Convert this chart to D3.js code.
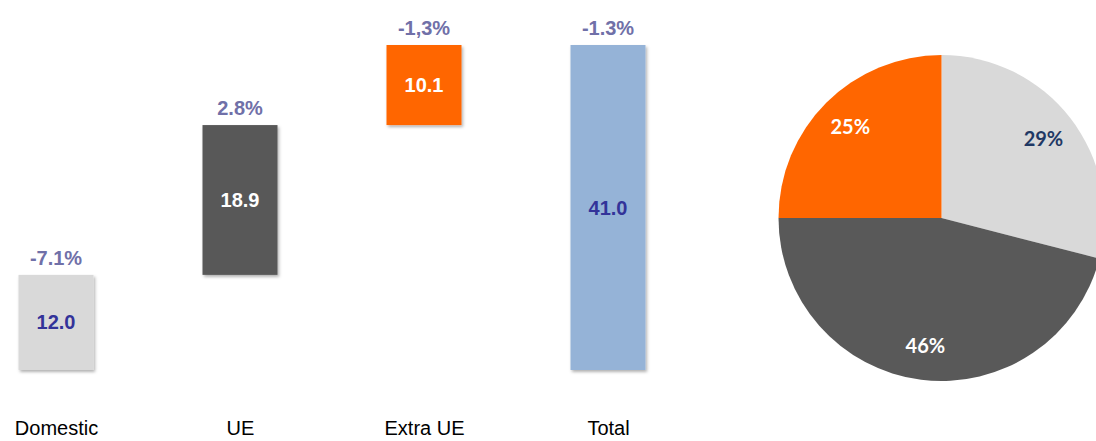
<!DOCTYPE html>
<html>
<head>
<meta charset="utf-8">
<script src="https://cdn.jsdelivr.net/npm/d3@7"></script>
<style>
  html, body { margin: 0; padding: 0; background: #fff; }
  svg { display: block; }
</style>
</head>
<body>
<div id="chart"></div>
<script>
// Waterfall data (values and growth labels)
const categories = ["Domestic", "UE", "Extra UE", "Total"];
const barValues = [12.0, 18.9, 10.1, 41.0];
const growthLabels = ["-7.1%", "2.8%", "-1,3%", "-1.3%"];
const barColors = ["#d9d9d9", "#595959", "#ff6600", "#95b3d7"];
const valueColors = ["#333399", "#ffffff", "#ffffff", "#333399"];

// Pie data (share of total)
const pieLabels = ["29%", "46%", "25%"];
const pieValues = [29, 46, 25];
const pieColors = ["#d9d9d9", "#595959", "#ff6600"];
const pieTextColors = ["#1f3864", "#ffffff", "#ffffff"];

const W = 1096, H = 441;

const svg = d3.select("#chart")
    .append("svg")
    .attr("width", W)
    .attr("height", H);

// soft drop shadow for the bars
const defs = svg.append("defs");
const f = defs.append("filter").attr("id", "shadow")
    .attr("x", "-10%").attr("y", "-10%").attr("width", "130%").attr("height", "130%");
f.append("feDropShadow")
    .attr("dx", 1.5).attr("dy", 2)
    .attr("stdDeviation", 1.5)
    .attr("flood-color", "#000")
    .attr("flood-opacity", 0.3);

// build waterfall start/end from values
let run = 0;
const bars = categories.map((c, i) => {
    let start, end;
    if (i === categories.length - 1) { start = 0; end = barValues[i]; }
    else { start = run; end = run + barValues[i]; run = end; }
    return { cat: c, value: barValues[i], start, end, growth: growthLabels[i],
             color: barColors[i], textColor: valueColors[i] };
});

const x = d3.scalePoint().domain(categories).range([56, 608]);
const y = d3.scaleLinear().domain([0, 41]).range([370, 45]);
const barW = 75;

const g = svg.append("g");

g.selectAll("rect.bar")
    .data(bars)
    .enter().append("rect")
    .attr("class", "bar")
    .attr("x", d => x(d.cat) - barW / 2)
    .attr("y", d => y(d.end))
    .attr("width", barW)
    .attr("height", d => y(d.start) - y(d.end))
    .attr("fill", d => d.color)
    .attr("filter", "url(#shadow)");

g.selectAll("text.val")
    .data(bars)
    .enter().append("text")
    .attr("class", "val")
    .attr("x", d => x(d.cat))
    .attr("y", d => (y(d.start) + y(d.end)) / 2)
    .attr("dy", "0.35em")
    .attr("text-anchor", "middle")
    .style("font-family", "Liberation Sans, Arial, sans-serif")
    .style("font-weight", "bold")
    .style("font-size", "20px")
    .style("fill", d => d.textColor)
    .text(d => d.value.toFixed(1));

g.selectAll("text.growth")
    .data(bars)
    .enter().append("text")
    .attr("class", "growth")
    .attr("x", d => x(d.cat))
    .attr("y", d => y(d.end) - 10)
    .attr("text-anchor", "middle")
    .style("font-family", "Liberation Sans, Arial, sans-serif")
    .style("font-weight", "bold")
    .style("font-size", "20px")
    .style("fill", "#7070a8")
    .text(d => d.growth);

// category labels along the bottom
const xAxis = d3.axisBottom(x).tickSize(0).tickPadding(0);
const ax = svg.append("g")
    .attr("transform", "translate(0,421)")
    .call(xAxis);
ax.select(".domain").remove();
ax.selectAll("text")
    .attr("dy", "0.71em")
    .style("font-family", "Liberation Sans, Arial, sans-serif")
    .style("font-size", "20px")
    .style("fill", "#000");

// pie
const cx = 941.5, cy = 218, r = 163;
const pie = d3.pie().sort(null).value(d => d);
const arc = d3.arc().innerRadius(0).outerRadius(r);
const labelArc = d3.arc().innerRadius(129).outerRadius(129);

const pg = svg.append("g").attr("transform", `translate(${cx},${cy})`);
const arcs = pie(pieValues);

pg.selectAll("path")
    .data(arcs)
    .enter().append("path")
    .attr("d", arc)
    .attr("fill", (d, i) => pieColors[i]);

pg.selectAll("text")
    .data(arcs)
    .enter().append("text")
    .attr("transform", d => `translate(${labelArc.centroid(d)})`)
    .attr("dy", "0.35em")
    .attr("text-anchor", "middle")
    .style("font-family", "Lato, Open Sans, sans-serif")
    .style("font-weight", "bold")
    .style("font-size", "20px")
    .style("fill", (d, i) => pieTextColors[i])
    .text((d, i) => pieLabels[i]);
</script>
</body>
</html>
